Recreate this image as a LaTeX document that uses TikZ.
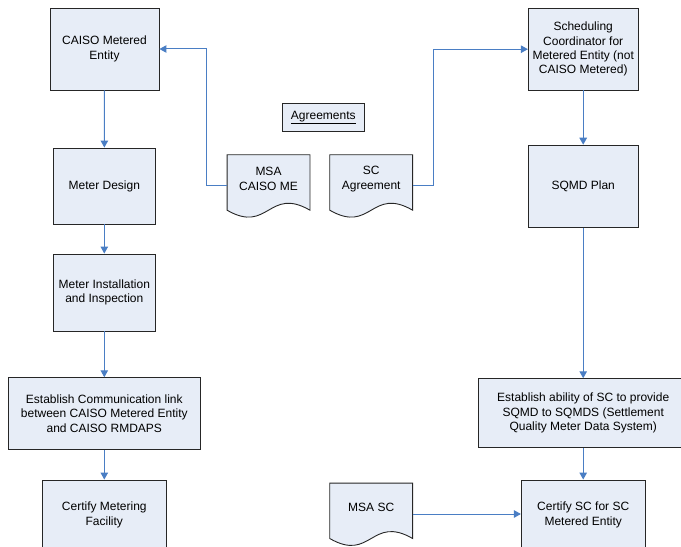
\documentclass[tikz,border=0pt]{standalone}
\usepackage{fontspec}
\setmainfont{Liberation Sans}
\usetikzlibrary{arrows.meta,calc,backgrounds}
\definecolor{boxfill}{HTML}{E7EDF7}
\definecolor{boxline}{HTML}{262626}
\definecolor{flow}{HTML}{4A7EC4}
\tikzset{
  stepbox/.style={draw=boxline, fill=boxfill, line width=0.9bp, inner sep=2bp, align=center,
    font=\fontsize{12bp}{14.4bp}\selectfont},
  docnode/.style={draw=none, inner sep=0pt, minimum width=82.5bp, minimum height=48bp, align=center,
    font=\fontsize{12bp}{14.4bp}\selectfont},
  docline/.style={draw=boxline, fill=boxfill, line width=0.9bp},
  flowarrow/.style={draw=flow, line width=1bp, -{Triangle[width=7.5bp,length=7bp]}},
}
\newcommand\drawdocshape[1]{%
  \path[docline] (#1.north west) -- ([yshift=-7bp]#1.south west)
    .. controls ($(#1.south)+(0,31)$) and ($(#1.south)+(0,-17)$) .. ([yshift=-7bp]#1.south east)
    -- (#1.north east) -- cycle;}
\begin{document}
\begin{tikzpicture}[x=1bp,y=-1bp]
\useasboundingbox (0,0) rectangle (681,547);
\clip (0,0) rectangle (681,547);
% left column
\node[stepbox, minimum width=109bp, minimum height=82bp] (me) at (104.5,49) {CAISO Metered\\Entity};
\node[stepbox, minimum width=102.5bp, minimum height=76bp] (md) at (104.3,186) {Meter Design};
\node[stepbox, minimum width=102.7bp, minimum height=77bp] (mi) at (104.3,292.5) {Meter Installation\\and Inspection};
\node[stepbox, minimum width=192bp, minimum height=71.6bp] (ec) at (104.3,413.5) {Establish Communication link\\between CAISO Metered Entity\\and CAISO RMDAPS};
\node[stepbox, minimum width=123.3bp, minimum height=70bp] (cm) at (104.3,515) {Certify Metering\\Facility};
% right column
\node[stepbox, minimum width=109.7bp, minimum height=81.7bp] (sc) at (583.2,49.2) {Scheduling\\Coordinator for\\Metered Entity (not\\CAISO Metered)};
\node[stepbox, minimum width=110bp, minimum height=82bp] (sp) at (583.2,186.2) {SQMD Plan};
\node[stepbox, minimum width=209bp, minimum height=68.6bp] (ea) at (583.2,413) {Establish ability of SC to provide\\SQMD to SQMDS (Settlement\\Quality Meter Data System)};
\node[stepbox, minimum width=123.7bp, minimum height=70bp] (cs) at (583.2,515) {Certify SC for SC\\Metered Entity};
% agreements
\node[stepbox, minimum width=82bp, minimum height=27.6bp] (ag) at (323.3,117.5) {\underline{Agreements}};
% documents
\node[docnode] (msame) at (268.5,179) {MSA\\CAISO ME};
\node[docnode] (sca) at (371.2,179) {SC\\Agreement};
\node[docnode] (msasc) at (371.2,507.3) {MSA SC};
\begin{scope}[on background layer]
  \drawdocshape{msame}
  \drawdocshape{sca}
  \drawdocshape{msasc}
\end{scope}
% connectors
\draw[flowarrow] (me) -- (md);
\draw[flowarrow] (md) -- (mi);
\draw[flowarrow] (mi) -- (ec);
\draw[flowarrow] (ec) -- (cm);
\draw[flowarrow] (sc) -- (sp);
\draw[flowarrow] (sp) -- (sp |- ea.north);
\draw[flowarrow] (ea) -- (cs);
\draw[flowarrow] ([yshift=-6.7bp]msame.west) -- ++(-20.5,0) |- (me.east);
\draw[flowarrow] ([yshift=-6.7bp]sca.east) -- ++(20.5,0) |- (sc.west);
\draw[flowarrow] ([yshift=-6.7bp]msasc.east) -- ([yshift=-6.7bp]msasc.east -| cs.west);
\end{tikzpicture}
\end{document}
